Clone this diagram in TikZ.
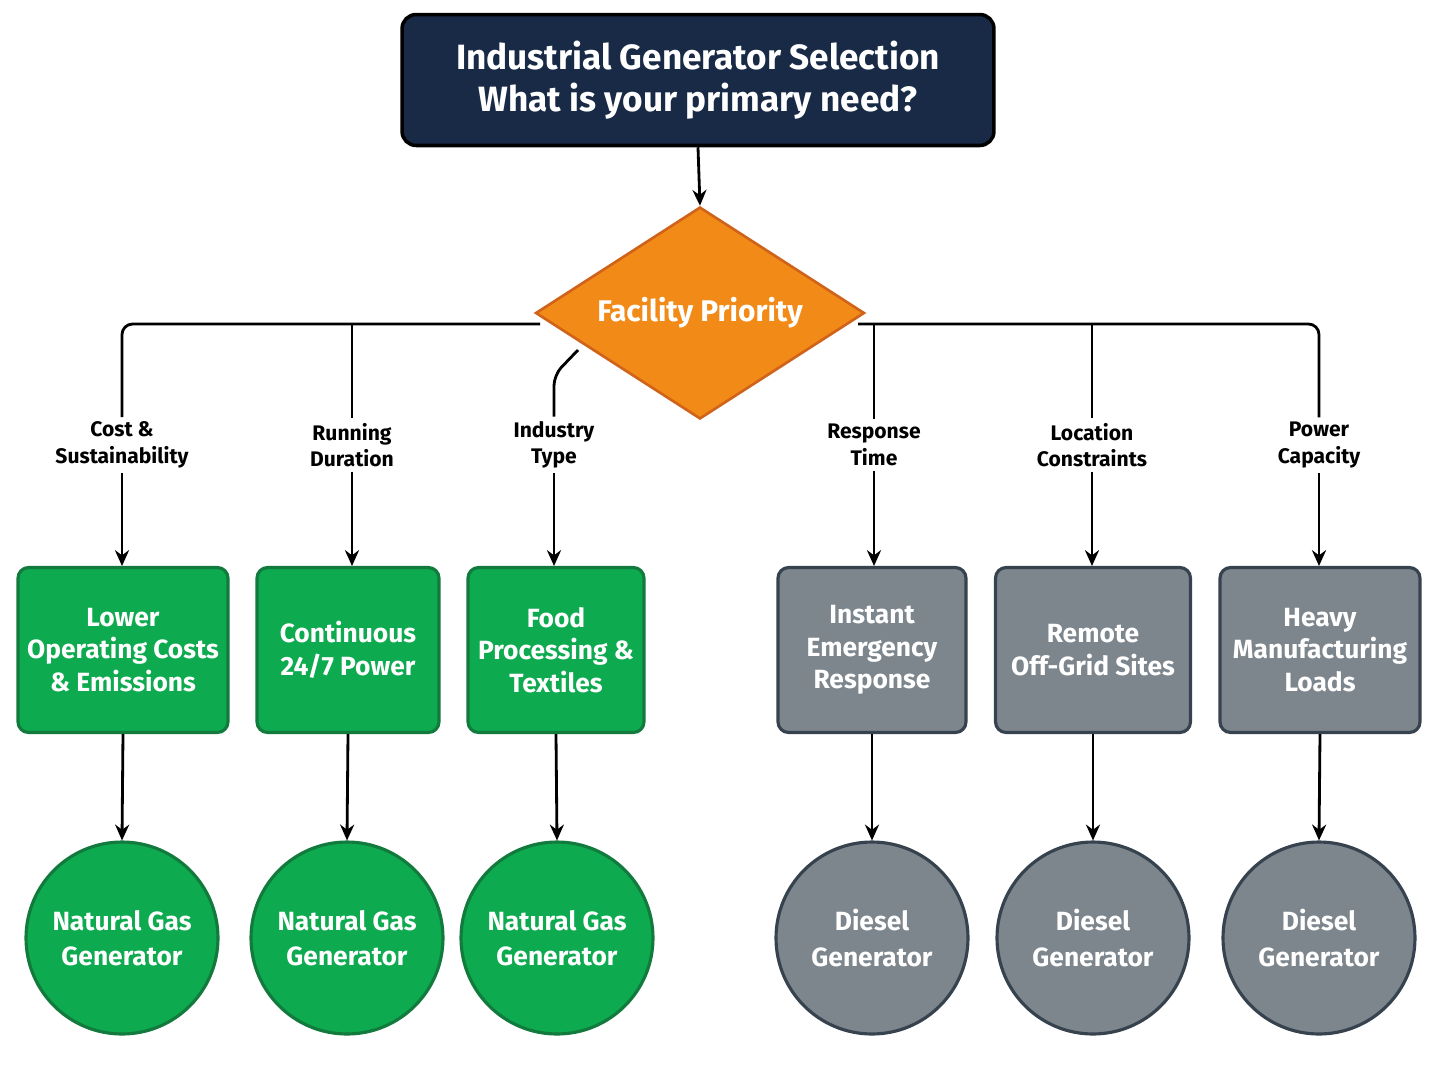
\documentclass[tikz,border=0pt]{standalone}
\usepackage{fontspec}
\setmainfont{Fira Sans}
\usetikzlibrary{shapes.geometric,arrows.meta}
\definecolor{navy}{HTML}{182A46}
\definecolor{orng}{HTML}{F28A17}
\definecolor{orngd}{HTML}{D0631A}
\definecolor{grn}{HTML}{0DAA4F}
\definecolor{grnd}{HTML}{127A3C}
\definecolor{gry}{HTML}{7D868D}
\definecolor{gryd}{HTML}{36434F}
\begin{document}
\begin{tikzpicture}[x=0.02cm,y=-0.02cm,
  line width=1.6pt,
  arr/.style={-{Stealth[length=9pt,width=8pt]},line width=1.6pt},
  link/.style={line width=1.6pt,rounded corners=6pt},
  box/.style={draw,rounded corners=6pt,line width=1.8pt,minimum height=3.3cm,text=white,align=center,font=\fontsize{15}{18.5}\selectfont\bfseries,inner sep=2pt},
  gbox/.style={box,fill=grn,draw=grnd},
  ybox/.style={box,fill=gry,draw=gryd},
  circ/.style={circle,draw,line width=1.8pt,minimum size=3.84cm,text=white,align=center,font=\fontsize{15}{20}\selectfont\bfseries,inner sep=0pt},
  gcirc/.style={circ,fill=grn,draw=grnd},
  ycirc/.style={circ,fill=gry,draw=gryd},
  lab/.style={align=center,font=\fontsize{12}{15}\selectfont\bfseries,fill=white,inner sep=2pt}]
\useasboundingbox (0,0) rectangle (1448,1086);
\node[draw=black,fill=navy,rounded corners=8pt,line width=2pt,minimum width=11.84cm,minimum height=2.62cm,text=white,align=center,font=\fontsize{20}{24}\selectfont\bfseries] (title) at (698,80) {Industrial Generator Selection\\What is your primary need?};
\node[diamond,fill=orng,draw=orngd,line width=1.5pt,minimum width=6.58cm,minimum height=4.24cm,aspect=1.55,inner sep=0pt,text=white,font=\fontsize{17}{20}\selectfont\bfseries] (dia) at (700,313) {Facility Priority};
\draw[arr] (title.south) -- (dia.north);

\coordinate (jl) at (540,324);
\coordinate (jr) at (858,324);
\coordinate (ji) at (578,350);

\node[lab] (l1) at (122,445) {Cost \&\\Sustainability};
\node[lab] (l2) at (352,445) {Running\\Duration};
\node[lab] (l3) at (554,445) {Industry\\Type};
\node[lab] (l4) at (874,445) {Response\\Time};
\node[lab] (l5) at (1092,445) {Location\\Constraints};
\node[lab] (l6) at (1319,445) {Power\\Capacity};

\draw[link] (jl) -| (l1.north);
\draw[link] (352,324) -- (352,340) -- (l2.north);
\draw[link] (ji) -- (554,375) -- (l3.north);
\draw[link] (jr) -| (l6.north);
\draw[link] (874,324) -- (874,340) -- (l4.north);
\draw[link] (1092,324) -- (1092,340) -- (l5.north);

\node[gbox,minimum width=4.2cm] (b1) at (123,650) {Lower\\Operating Costs\\\& Emissions};
\node[gbox,minimum width=3.64cm] (b2) at (348,650) {Continuous\\24/7 Power};
\node[gbox,minimum width=3.52cm] (b3) at (556,650) {Food\\Processing \&\\Textiles};
\node[ybox,minimum width=3.76cm] (b4) at (872,650) {Instant\\Emergency\\Response};
\node[ybox,minimum width=3.9cm] (b5) at (1093,650) {Remote\\Off-Grid Sites};
\node[ybox,minimum width=4.0cm] (b6) at (1320,650) {Heavy\\Manufacturing\\Loads};

\foreach \i/\x in {1/122,2/352,3/554,4/874,5/1092,6/1319}{
  \draw[arr] (l\i.south) -- (\x,566);
}

\node[gcirc] (c1) at (122,938) {Natural Gas\\Generator};
\node[gcirc] (c2) at (347,938) {Natural Gas\\Generator};
\node[gcirc] (c3) at (557,938) {Natural Gas\\Generator};
\node[ycirc] (c4) at (872,938) {Diesel\\Generator};
\node[ycirc] (c5) at (1093,938) {Diesel\\Generator};
\node[ycirc] (c6) at (1319,938) {Diesel\\Generator};

\foreach \i in {1,...,6}{
  \draw[arr] (b\i.south) -- (c\i.north);
}
\end{tikzpicture}
\end{document}
